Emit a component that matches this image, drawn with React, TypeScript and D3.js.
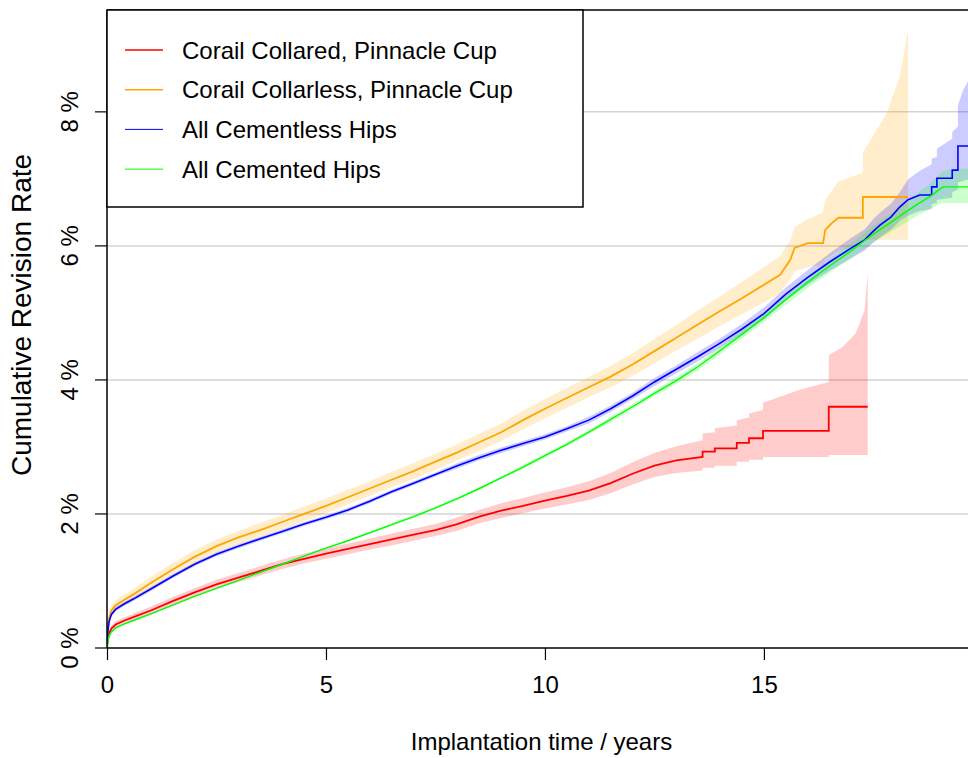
import { useEffect, useRef } from "react";
import * as d3 from "d3";

// [years, estimate %, lower CI %, upper CI %]
type Row = [number, number, number, number];

const collared: Row[] = [
  [0, 0, 0, 0], [0.02, 0.12, 0.08, 0.16], [0.05, 0.22, 0.17, 0.27], [0.1, 0.29, 0.24, 0.34],
  [0.2, 0.35, 0.3, 0.4], [0.4, 0.41, 0.36, 0.46], [0.6, 0.46, 0.41, 0.51], [1, 0.56, 0.5, 0.62],
  [1.5, 0.7, 0.64, 0.76], [2, 0.83, 0.77, 0.89], [2.5, 0.95, 0.89, 1.02], [3, 1.05, 0.98, 1.12],
  [3.5, 1.15, 1.08, 1.22], [4, 1.25, 1.18, 1.32], [4.5, 1.33, 1.26, 1.41], [5, 1.41, 1.33, 1.49],
  [5.5, 1.48, 1.4, 1.56], [6, 1.55, 1.47, 1.63], [6.5, 1.62, 1.53, 1.71], [7, 1.69, 1.6, 1.78],
  [7.5, 1.76, 1.67, 1.85], [8, 1.85, 1.75, 1.95], [8.5, 1.96, 1.86, 2.06], [9, 2.05, 1.94, 2.16],
  [9.5, 2.12, 2.01, 2.24], [10, 2.2, 2.08, 2.32], [10.5, 2.27, 2.14, 2.4], [11, 2.35, 2.21, 2.49],
  [11.5, 2.46, 2.31, 2.61], [12, 2.6, 2.44, 2.77], [12.5, 2.72, 2.55, 2.91], [13, 2.8, 2.61, 3.01],
  [13.6, 2.85, 2.65, 3.1], [13.6, 2.93, 2.69, 3.2], [13.88, 2.93, 2.69, 3.22], [13.88, 2.98, 2.72, 3.28],
  [14.38, 2.98, 2.72, 3.32], [14.38, 3.06, 2.78, 3.4], [14.66, 3.06, 2.78, 3.44], [14.66, 3.13, 2.81, 3.5],
  [14.98, 3.13, 2.81, 3.55], [14.98, 3.24, 2.85, 3.66], [15.8, 3.24, 2.85, 3.85], [16.48, 3.24, 2.85, 3.97],
  [16.48, 3.6, 2.88, 4.37], [16.8, 3.6, 2.88, 4.49], [17.1, 3.6, 2.88, 4.7], [17.3, 3.6, 2.88, 5.04],
  [17.37, 3.6, 2.88, 5.61],
];

const collarless: Row[] = [
  [0, 0, 0, 0], [0.02, 0.3, 0.22, 0.38], [0.05, 0.45, 0.37, 0.53], [0.1, 0.56, 0.48, 0.64],
  [0.2, 0.64, 0.56, 0.72], [0.4, 0.72, 0.64, 0.8], [0.6, 0.8, 0.72, 0.88], [1, 0.97, 0.88, 1.06],
  [1.5, 1.17, 1.08, 1.27], [2, 1.36, 1.26, 1.46], [2.5, 1.52, 1.42, 1.62], [3, 1.65, 1.55, 1.75],
  [3.5, 1.76, 1.66, 1.87], [4, 1.88, 1.77, 1.99], [4.5, 2.0, 1.89, 2.11], [5, 2.12, 2.01, 2.23],
  [5.5, 2.25, 2.14, 2.36], [6, 2.38, 2.27, 2.49], [6.5, 2.51, 2.4, 2.63], [7, 2.64, 2.52, 2.76],
  [7.5, 2.78, 2.66, 2.9], [8, 2.92, 2.8, 3.04], [8.5, 3.07, 2.94, 3.2], [9, 3.22, 3.09, 3.35],
  [9.5, 3.4, 3.26, 3.54], [10, 3.57, 3.43, 3.71], [10.5, 3.73, 3.58, 3.88], [11, 3.89, 3.74, 4.04],
  [11.5, 4.05, 3.89, 4.21], [12, 4.23, 4.06, 4.4], [12.5, 4.43, 4.25, 4.61], [13, 4.63, 4.44, 4.82],
  [13.5, 4.83, 4.62, 5.04], [14, 5.03, 4.81, 5.25], [14.5, 5.22, 4.98, 5.46], [15, 5.42, 5.16, 5.68],
  [15.37, 5.57, 5.3, 5.85], [15.6, 5.79, 5.5, 6.08], [15.7, 5.97, 5.62, 6.28], [16, 6.04, 5.68, 6.4],
  [16.35, 6.04, 5.72, 6.5], [16.4, 6.24, 5.8, 6.69], [16.55, 6.34, 5.86, 6.82], [16.7, 6.42, 5.92, 6.96],
  [17.26, 6.42, 6.05, 7.09], [17.26, 6.73, 6.09, 7.39], [17.8, 6.73, 6.09, 7.98], [18.1, 6.73, 6.09, 8.52],
  [18.29, 6.73, 6.09, 9.22],
];

const cementless: Row[] = [
  [0, 0, 0, 0], [0.02, 0.25, 0.22, 0.28], [0.05, 0.4, 0.37, 0.43], [0.1, 0.5, 0.47, 0.53],
  [0.2, 0.58, 0.55, 0.61], [0.4, 0.66, 0.63, 0.69], [0.6, 0.73, 0.7, 0.76], [1, 0.88, 0.85, 0.91],
  [1.5, 1.07, 1.04, 1.1], [2, 1.25, 1.22, 1.28], [2.5, 1.4, 1.37, 1.43], [3, 1.52, 1.49, 1.55],
  [3.5, 1.63, 1.6, 1.66], [4, 1.74, 1.71, 1.77], [4.5, 1.85, 1.82, 1.88], [5, 1.95, 1.92, 1.98],
  [5.5, 2.06, 2.03, 2.09], [6, 2.19, 2.16, 2.22], [6.5, 2.33, 2.3, 2.36], [7, 2.46, 2.43, 2.49],
  [7.5, 2.59, 2.56, 2.62], [8, 2.72, 2.68, 2.76], [8.5, 2.84, 2.8, 2.88], [9, 2.95, 2.91, 2.99],
  [9.5, 3.05, 3.01, 3.09], [10, 3.15, 3.11, 3.19], [10.5, 3.27, 3.23, 3.31], [11, 3.4, 3.35, 3.45],
  [11.5, 3.57, 3.52, 3.62], [12, 3.76, 3.71, 3.81], [12.5, 3.97, 3.91, 4.03], [13, 4.16, 4.1, 4.22],
  [13.5, 4.35, 4.28, 4.42], [14, 4.55, 4.48, 4.62], [14.5, 4.76, 4.68, 4.84], [15, 4.99, 4.9, 5.08],
  [15.5, 5.28, 5.18, 5.38], [16, 5.53, 5.42, 5.64], [16.5, 5.76, 5.63, 5.89], [17, 5.97, 5.82, 6.12],
  [17.3, 6.09, 5.93, 6.25], [17.5, 6.22, 6.05, 6.4], [17.65, 6.31, 6.13, 6.5], [17.9, 6.43, 6.24, 6.63],
  [18.1, 6.58, 6.37, 6.8], [18.29, 6.69, 6.45, 6.99], [18.56, 6.76, 6.52, 7.12], [18.83, 6.76, 6.55, 7.22],
  [18.83, 6.88, 6.62, 7.3], [18.95, 6.88, 6.64, 7.33], [18.95, 7.01, 6.69, 7.45], [19.3, 7.01, 6.72, 7.6],
  [19.3, 7.13, 6.8, 7.7], [19.43, 7.13, 6.84, 7.78], [19.43, 7.49, 6.95, 8.1], [19.55, 7.49, 6.97, 8.33],
  [19.7, 7.49, 7.0, 8.5],
];

const cemented: Row[] = [
  [0, 0, 0, 0], [0.02, 0.1, 0.09, 0.11], [0.05, 0.18, 0.17, 0.19], [0.1, 0.24, 0.23, 0.25],
  [0.2, 0.3, 0.29, 0.31], [0.4, 0.36, 0.35, 0.37], [0.6, 0.41, 0.4, 0.42], [1, 0.51, 0.5, 0.52],
  [1.5, 0.64, 0.63, 0.65], [2, 0.77, 0.76, 0.78], [2.5, 0.89, 0.88, 0.9], [3, 1.01, 1.0, 1.02],
  [3.5, 1.13, 1.12, 1.14], [4, 1.25, 1.24, 1.26], [4.5, 1.37, 1.36, 1.38], [5, 1.49, 1.48, 1.5],
  [5.5, 1.6, 1.59, 1.61], [6, 1.72, 1.71, 1.73], [6.5, 1.84, 1.82, 1.86], [7, 1.96, 1.94, 1.98],
  [7.5, 2.09, 2.07, 2.11], [8, 2.23, 2.21, 2.25], [8.5, 2.38, 2.36, 2.4], [9, 2.54, 2.52, 2.56],
  [9.5, 2.7, 2.67, 2.73], [10, 2.87, 2.84, 2.9], [10.5, 3.04, 3.01, 3.07], [11, 3.22, 3.19, 3.25],
  [11.5, 3.41, 3.37, 3.45], [12, 3.6, 3.56, 3.64], [12.5, 3.8, 3.76, 3.84], [13, 3.99, 3.94, 4.04],
  [13.5, 4.2, 4.15, 4.25], [14, 4.44, 4.38, 4.5], [14.5, 4.68, 4.62, 4.74], [15, 4.93, 4.86, 5.0],
  [15.5, 5.2, 5.12, 5.28], [16, 5.46, 5.37, 5.55], [16.5, 5.7, 5.6, 5.8], [17, 5.93, 5.82, 6.04],
  [17.3, 6.08, 5.96, 6.2], [17.6, 6.22, 6.09, 6.35], [17.9, 6.35, 6.21, 6.49], [18.2, 6.49, 6.33, 6.65],
  [18.5, 6.62, 6.45, 6.79], [18.8, 6.74, 6.55, 6.93], [19.0, 6.84, 6.62, 7.06], [19.1, 6.88, 6.64, 7.12],
  [19.7, 6.88, 6.64, 7.16],
];

const seriesNames = [
  "Corail Collared, Pinnacle Cup",
  "Corail Collarless, Pinnacle Cup",
  "All Cementless Hips",
  "All Cemented Hips",
];
const seriesColors = ["#ff0000", "#ffa500", "#0000ff", "#00ff00"];
const seriesData = [collared, collarless, cementless, cemented];

const xTicks = [0, 5, 10, 15];
const yTicks = [0, 2, 4, 6, 8];

const W = 968;
const H = 758;
const FONT = "'Liberation Sans', Arial, sans-serif";

const App = () => {
  const svgRef = useRef<SVGSVGElement>(null);

  useEffect(() => {
    if (!svgRef.current) return;
    const svg = d3.select(svgRef.current);
    svg.selectAll("*").remove();

    const left = 107, top = 10, bottom = 648, right = W;
    const x = d3.scaleLinear().domain([0, 19.66]).range([left, right]);
    const y = d3.scaleLinear().domain([0, 9.52]).range([bottom, top]);

    svg.append("rect").attr("width", W).attr("height", H).attr("fill", "#fff");

    svg.append("defs").append("clipPath").attr("id", "plotclip")
      .append("rect").attr("x", left).attr("y", top).attr("width", right - left).attr("height", bottom - top);

    // grid
    svg.append("g").selectAll("line").data(yTicks.filter((d) => d > 0)).join("line")
      .attr("x1", left).attr("x2", right)
      .attr("y1", (d) => y(d)).attr("y2", (d) => y(d))
      .attr("stroke", "#d3d3d3").attr("stroke-width", 1.5);

    const plot = svg.append("g").attr("clip-path", "url(#plotclip)");

    const area = d3.area<Row>().x((d) => x(d[0])).y0((d) => y(d[2])).y1((d) => y(d[3]));
    const line = d3.line<Row>().x((d) => x(d[0])).y((d) => y(d[1]));

    seriesData.forEach((data, i) => {
      plot.append("path").datum(data).attr("d", area)
        .attr("fill", seriesColors[i]).attr("fill-opacity", 0.2).attr("stroke", "none");
    });
    const widths = [1.8, 1.8, 1.6, 1.4];
    seriesData.forEach((data, i) => {
      plot.append("path").datum(data).attr("d", line)
        .attr("fill", "none").attr("stroke", seriesColors[i])
        .attr("stroke-width", widths[i]).attr("stroke-linejoin", "miter");
    });

    // frame
    const frame = svg.append("g").attr("stroke", "#000").attr("stroke-width", 1.5);
    frame.append("line").attr("x1", left).attr("x2", right).attr("y1", top).attr("y2", top);
    frame.append("line").attr("x1", left).attr("x2", left).attr("y1", top).attr("y2", bottom);
    frame.append("line").attr("x1", left).attr("x2", right).attr("y1", bottom).attr("y2", bottom);

    // x axis
    const xAxis = d3.axisBottom(x).tickValues(xTicks).tickSize(12).tickPadding(16)
      .tickFormat((d) => String(d));
    const gx = svg.append("g").attr("transform", `translate(0,${bottom})`).call(xAxis);
    gx.select(".domain").remove();
    gx.selectAll("line").attr("stroke", "#000").attr("stroke-width", 1.2);
    gx.selectAll("text").attr("font-family", FONT).attr("font-size", 24).attr("fill", "#000");

    // y axis
    const gy = svg.append("g");
    gy.selectAll("line").data(yTicks).join("line")
      .attr("x1", left - 12).attr("x2", left)
      .attr("y1", (d) => y(d)).attr("y2", (d) => y(d))
      .attr("stroke", "#000").attr("stroke-width", 1.2);
    gy.selectAll("text").data(yTicks).join("text")
      .attr("transform", (d) => `translate(78,${y(d)}) rotate(-90)`)
      .attr("text-anchor", "middle")
      .attr("font-family", FONT).attr("font-size", 24).attr("fill", "#000")
      .text((d) => `${d} %`);

    // titles
    svg.append("text").attr("x", (left + right) / 2 + 4).attr("y", 750)
      .attr("text-anchor", "middle").attr("font-family", FONT).attr("font-size", 24)
      .text("Implantation time / years");
    svg.append("text").attr("transform", `translate(31,${(top + bottom) / 2 - 14}) rotate(-90)`)
      .attr("text-anchor", "middle").attr("font-family", FONT).attr("font-size", 28)
      .text("Cumulative Revision Rate");

    // legend
    const lg = svg.append("g");
    lg.append("rect").attr("x", left).attr("y", top).attr("width", 583 - left).attr("height", 207 - top)
      .attr("fill", "#fff").attr("stroke", "#000").attr("stroke-width", 1.5);
    const legendW = [1.6, 1.6, 1, 1];
    seriesNames.forEach((name, i) => {
      const cy = 50 + i * 39.7;
      lg.append("line").attr("x1", 125).attr("x2", 163).attr("y1", cy).attr("y2", cy)
        .attr("stroke", seriesColors[i]).attr("stroke-width", legendW[i]);
      lg.append("text").attr("x", 182).attr("y", cy + 8.5)
        .attr("font-family", FONT).attr("font-size", 24).attr("fill", "#000").text(name);
    });
  }, []);

  return (
    <svg ref={svgRef} width={W} height={H}
      style={{ position: "absolute", left: 0, top: 0, display: "block" }} />
  );
};

export default App;
